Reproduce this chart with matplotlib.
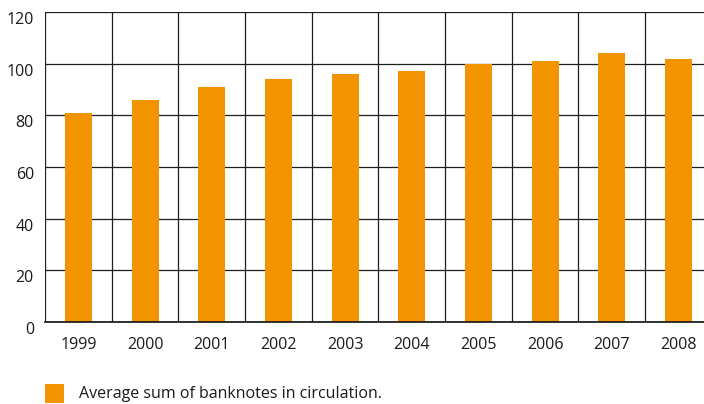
import matplotlib
matplotlib.use("Agg")
import matplotlib.pyplot as plt
import matplotlib.transforms as mtransforms
from matplotlib.patches import Rectangle
import numpy as np

plt.rcParams['font.family'] = ['Open Sans', 'DejaVu Sans']

years = ["1999", "2000", "2001", "2002", "2003", "2004", "2005", "2006", "2007", "2008"]
banknotes = [81, 86, 91, 94, 96, 97, 100, 101, 104, 102]
y_ticks = [0, 20, 40, 60, 80, 100, 120]
legend_label = "Average sum of banknotes in circulation."

bar_color = "#F29400"
grid_color = "#1e1e1e"

W, H = 704, 404
fig = plt.figure(figsize=(W / 100, H / 100), dpi=100)
ax = fig.add_axes([45 / W, (H - 322) / H, (711.7 - 45) / W, (322 - 12) / H])

x = np.arange(len(years))
ax.bar(x, banknotes, width=0.405, color=bar_color, zorder=3)

ax.set_xlim(-0.5, len(years) - 0.5)
ax.set_ylim(0, 120)
ax.set_yticks(y_ticks)
ax.set_xticks(x)
ax.set_xticklabels(years)
ax.set_xticks(np.arange(-0.5, len(years), 1.0), minor=True)

ax.grid(axis="y", which="major", color=grid_color, linewidth=0.9, zorder=1)
ax.grid(axis="x", which="minor", color=grid_color, linewidth=0.9, zorder=1)
ax.set_axisbelow(True)

for side in ("top", "right", "left"):
    ax.spines[side].set_visible(False)
ax.spines["bottom"].set_color("#111111")
ax.spines["bottom"].set_linewidth(1.2)
ax.spines["bottom"].set_zorder(4)

ax.tick_params(axis="both", which="both", length=0, labelsize=11.5, labelcolor="#1a1a1a")
ax.tick_params(axis="y", pad=8)
ax.tick_params(axis="x", pad=11)

# nudge the value labels slightly below their gridlines
offset = mtransforms.ScaledTranslation(0, -6 / 100, fig.dpi_scale_trans)
for lbl in ax.get_yticklabels():
    lbl.set_transform(lbl.get_transform() + offset)

# legend swatch and text below the plot
fig.patches.append(Rectangle((45 / W, (H - 403) / H), 19 / W, 19 / H,
                             transform=fig.transFigure, facecolor=bar_color,
                             edgecolor="none"))
fig.text(79 / W, (H - 394.5) / H, legend_label, fontsize=11.5, color="#1a1a1a",
         va="center", ha="left")

fig.savefig("out.png", dpi=100)
